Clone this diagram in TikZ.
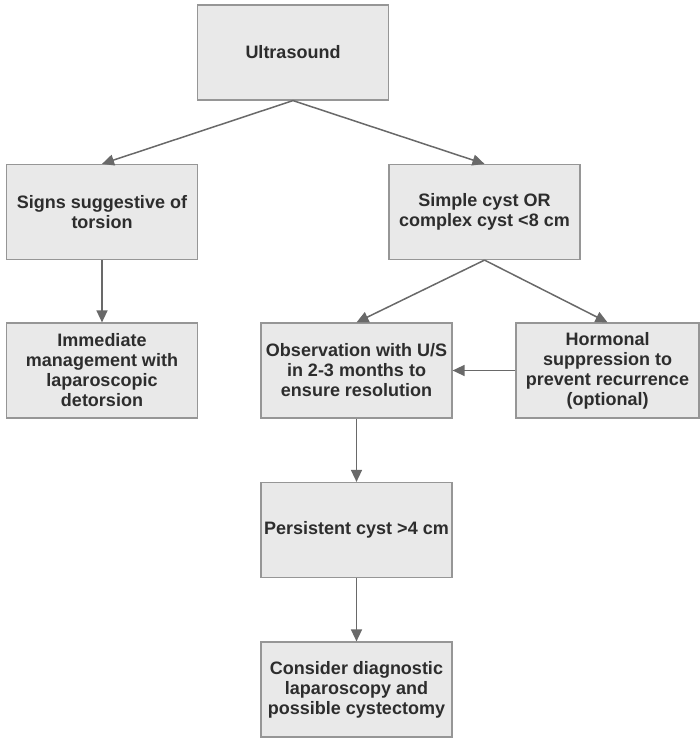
\documentclass[tikz,border=0pt]{standalone}
\usepackage{fontspec}
\setmainfont{Liberation Sans}
\usetikzlibrary{arrows.meta}
\definecolor{boxfill}{RGB}{233,233,233}
\definecolor{boxline}{RGB}{150,150,150}
\definecolor{arrgray}{RGB}{105,105,105}
\definecolor{txtgray}{RGB}{45,45,45}
\tikzset{
  flowbox/.style={draw=boxline, fill=boxfill, line width=1.2pt, align=center,
    minimum width=191pt, minimum height=95pt, inner sep=0pt,
    font=\fontsize{18}{20}\selectfont\bfseries, text=txtgray},
  flowarr/.style={-{Triangle[length=12pt,width=11pt]}, line width=1.5pt, arrgray}
}
\begin{document}
\begin{tikzpicture}[x=1pt,y=-1pt]
  \useasboundingbox (0,0) rectangle (700,738);
  % boxes
  \node[flowbox] (us) at (293,52.5) {Ultrasound};
  \node[flowbox] (torsion) at (102,212) {Signs suggestive of\\torsion};
  \node[flowbox] (simple) at (484.5,212) {Simple cyst OR\\complex cyst <8 cm};
  \node[flowbox] (detorsion) at (102,370.5) {Immediate\\management with\\laparoscopic\\detorsion};
  \node[flowbox] (observe) at (356.5,370.5) {Observation with U/S\\in 2-3 months to\\ensure resolution};
  \node[flowbox,minimum width=183pt] (hormonal) at (607.5,370.5) {Hormonal\\suppression to\\prevent recurrence\\(optional)};
  \node[flowbox] (persist) at (356.5,530) {Persistent cyst >4 cm};
  \node[flowbox] (consider) at (356.5,689.5) {Consider diagnostic\\laparoscopy and\\possible cystectomy};
  % connectors
  \draw[flowarr] (us.south) -- (torsion.north);
  \draw[flowarr] (us.south) -- (simple.north);
  \draw[flowarr] (torsion) -- (detorsion);
  \draw[flowarr] (simple.south) -- (observe.north);
  \draw[flowarr] (simple.south) -- (hormonal.north);
  \draw[flowarr] (hormonal) -- (observe);
  \draw[flowarr] (observe) -- (persist);
  \draw[flowarr] (persist) -- (consider);
\end{tikzpicture}
\end{document}
